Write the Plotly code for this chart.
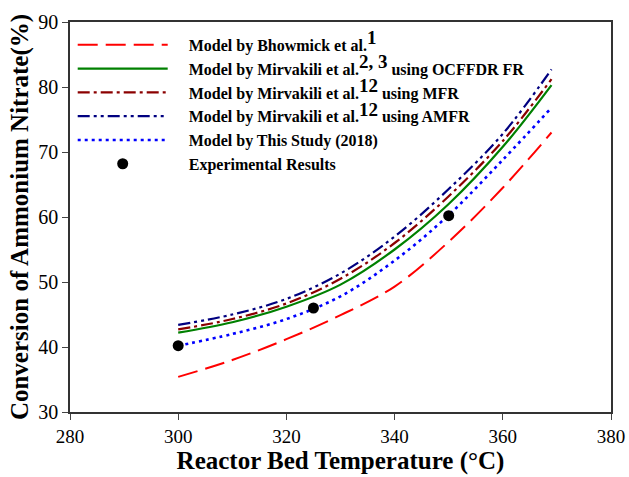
import plotly.graph_objects as go

# Temperatures (°C)
temp_model = [300, 310, 320, 330, 340, 350, 360, 369]
bhowmick = [35.4, 38.0, 41.2, 44.9, 49.3, 56.2, 64.5, 73.0]
mirvakili_ocffdr = [42.2, 43.8, 46.2, 49.6, 55.0, 62.0, 70.8, 80.3]
mirvakili_mfr = [42.7, 44.3, 46.7, 50.5, 56.0, 63.2, 71.7, 81.2]
mirvakili_amfr = [43.4, 45.0, 47.4, 51.3, 57.0, 64.3, 72.8, 82.7]
this_study = [40.2, 42.0, 44.3, 47.8, 53.3, 60.3, 68.8, 76.8]

temp_exp = [300, 325, 350]
experimental = [40.2, 46.0, 60.2]

x_ticks = [280, 300, 320, 340, 360, 380]
y_ticks = [30, 40, 50, 60, 70, 80, 90]

FONT = "Liberation Serif, Times New Roman, serif"
SUP = "<sup><span style='font-size:19px'>{}</span></sup>"
PAD = "\u00a0\u00a0\u00a0\u00a0"

fig = go.Figure()
fig.add_trace(go.Scatter(x=temp_model, y=bhowmick, mode="lines", line_shape="spline",
                         name=PAD + "Model by Bhowmick et al." + SUP.format("1"), legendgroup="a",
                         line=dict(color="#FF0000", width=2, dash="20px,8px")))
fig.add_trace(go.Scatter(x=temp_model, y=mirvakili_ocffdr, mode="lines", line_shape="spline",
                         name=PAD + "Model by Mirvakili et al." + SUP.format("2, 3") + " using OCFFDR FR",
                         legendgroup="b",
                         line=dict(color="#008000", width=2.2)))
fig.add_trace(go.Scatter(x=temp_model, y=mirvakili_mfr, mode="lines", line_shape="spline",
                         name=PAD + "Model by Mirvakili et al." + SUP.format("12") + " using MFR",
                         legendgroup="c",
                         line=dict(color="#8B0000", width=2.2, dash="12px,4px,3px,4px")))
fig.add_trace(go.Scatter(x=temp_model, y=mirvakili_amfr, mode="lines", line_shape="spline",
                         name=PAD + "Model by Mirvakili et al." + SUP.format("12") + " using AMFR",
                         legendgroup="d",
                         line=dict(color="#000080", width=2.2, dash="12px,4px,3px,4px,3px,4px")))
fig.add_trace(go.Scatter(x=temp_model, y=this_study, mode="lines", line_shape="spline",
                         name=PAD + "Model by This Study (2018)", legendgroup="e",
                         line=dict(color="#0000FF", width=2.6, dash="3px,4px")))
fig.add_trace(go.Scatter(x=temp_exp, y=experimental, mode="markers",
                         name=PAD + "Experimental Results", legendgroup="f",
                         marker=dict(color="black", size=11)))

fig.update_layout(
    width=629, height=477,
    margin=dict(l=70, r=18, t=22, b=65),
    paper_bgcolor="white", plot_bgcolor="white",
    font=dict(family=FONT, color="black"),
    showlegend=True,
    legend=dict(x=0.005, y=0.985, xanchor="left", yanchor="top",
                bgcolor="rgba(0,0,0,0)", itemwidth=90,
                font=dict(family=FONT, size=16, color="black", weight="bold"),
                tracegroupgap=0),
)
fig.update_xaxes(range=[280, 380], tickvals=x_ticks, ticks="outside", ticklen=6,
                 showline=True, linecolor="#333", linewidth=1.6, mirror=True,
                 showgrid=False, zeroline=False, automargin=False,
                 tickfont=dict(family=FONT, size=19),
                 title=dict(text="<b>Reactor Bed Temperature (°C)</b>", standoff=6,
                            font=dict(family=FONT, size=25)))
fig.update_yaxes(range=[30, 90], tickvals=y_ticks, ticks="outside", ticklen=6,
                 showline=True, linecolor="#333", linewidth=1.6, mirror=True,
                 showgrid=False, zeroline=False, automargin=False,
                 tickfont=dict(family=FONT, size=20),
                 title=dict(text="<b>Conversion of Ammonium Nitrate(%)</b>", standoff=2,
                            font=dict(family=FONT, size=25)))

fig.write_html("out.html")
